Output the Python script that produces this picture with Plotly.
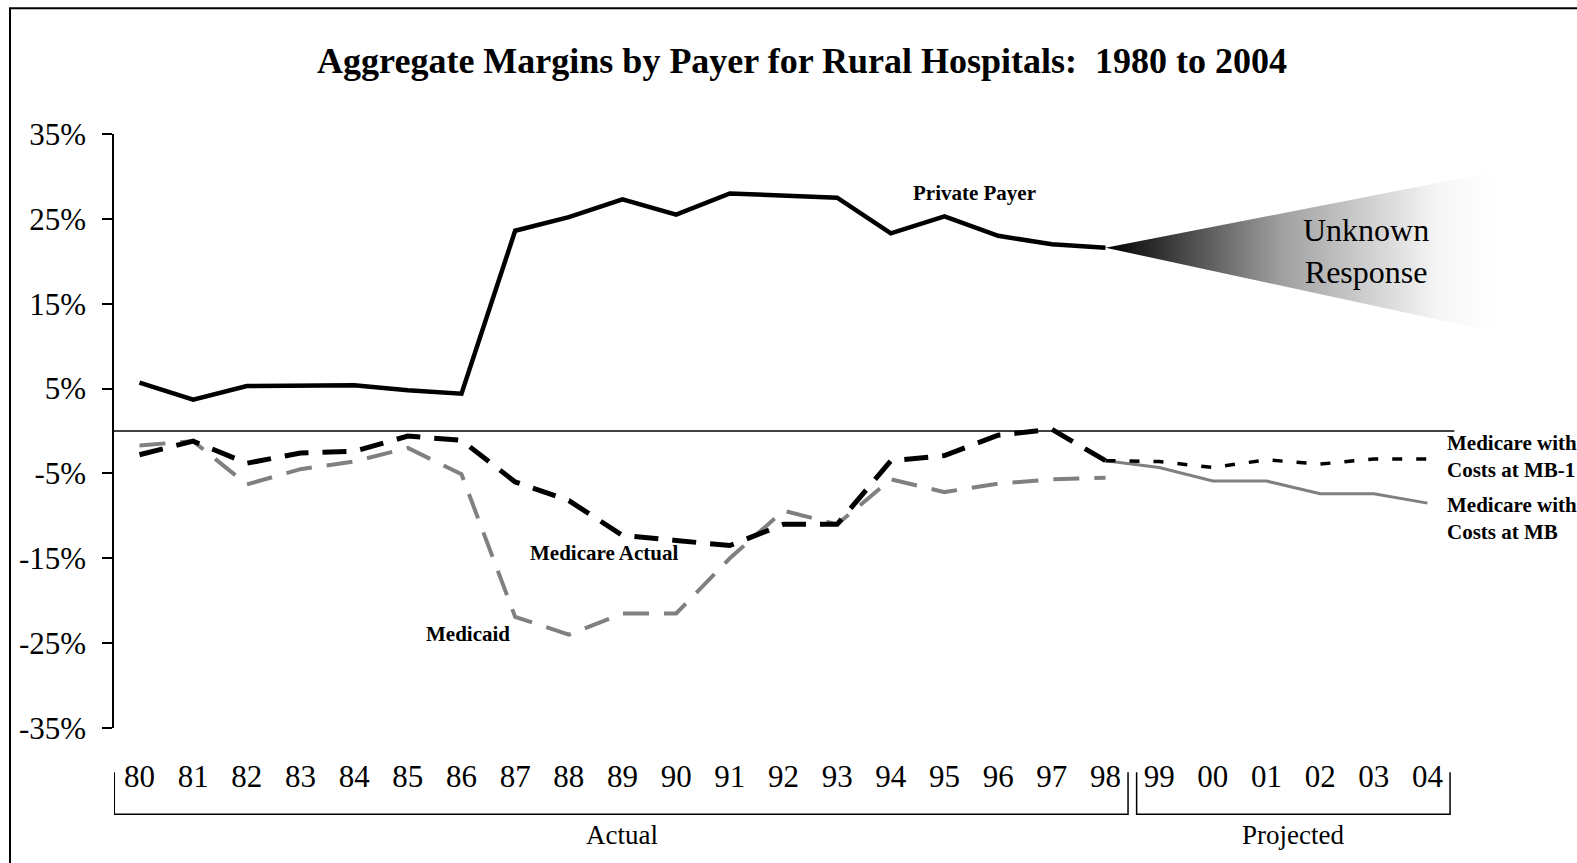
import plotly.graph_objects as go

# ---------------- data ----------------
years = ["80", "81", "82", "83", "84", "85", "86", "87", "88", "89", "90", "91",
         "92", "93", "94", "95", "96", "97", "98", "99", "00", "01", "02", "03", "04"]
actual_years = years[:19]          # 80 .. 98
projected_years = years[18:]       # 98 .. 04 (projection starts from the 98 value)

private_payer = [5.7, 3.7, 5.3, 5.4, 5.4, 4.8, 4.4, 23.6, 25.2, 27.3, 25.5, 28.0,
                 27.8, 27.5, 23.3, 25.3, 23.0, 22.0, 21.6]
medicare_actual = [-2.8, -1.2, -3.8, -2.6, -2.4, -0.6, -1.1, -6.0, -8.2, -12.3, -12.9, -13.5,
                   -11.0, -11.0, -3.5, -2.9, -0.5, 0.2, -3.5]
medicaid = [-1.7, -1.2, -6.3, -4.5, -3.6, -2.0, -5.1, -21.9, -24.0, -21.5, -21.5, -15.0,
            -9.4, -11.0, -5.7, -7.2, -6.2, -5.7, -5.5]
medicare_mb1 = [-3.5, -3.6, -4.3, -3.4, -3.9, -3.3, -3.3]
medicare_mb = [-3.5, -4.3, -5.9, -5.9, -7.4, -7.4, -8.5]

y_ticks = [-35, -25, -15, -5, 5, 15, 25, 35]
y_tick_labels = [f"{v}%" for v in y_ticks]

# ---------------- styling constants ----------------
FONT = "Liberation Serif, Times New Roman, serif"
GRAY = "rgb(128,128,128)"
X_MIN, X_MAX = -0.475, 25.5
WEDGE_END_X, WEDGE_TOP, WEDGE_BOTTOM = 25.3, 30.6, 11.6
ZERO_LINE_END = 24.5
BRACKET_PAD_OUTER, BRACKET_PAD = 0.47, 0.42
BRACKET_TOP, BRACKET_BOTTOM = -0.0743, -0.1454

pos = {y: i for i, y in enumerate(years)}
x_actual = [pos[y] for y in actual_years]
x_proj = [pos[y] for y in projected_years]

fig = go.Figure()

# Unknown response wedge (gradient)
apex_x, apex_y = x_actual[-1], private_payer[-1]
fig.add_trace(go.Scatter(
    x=[apex_x, WEDGE_END_X, WEDGE_END_X, apex_x],
    y=[apex_y, WEDGE_TOP, WEDGE_BOTTOM, apex_y],
    mode="lines", line=dict(width=0), fill="toself",
    fillgradient=dict(type="horizontal",
                      colorscale=[[0, "rgb(0,0,0)"], [0.45, "rgb(160,160,160)"],
                                  [0.85, "rgb(246,246,246)"], [1, "rgb(255,255,255)"]]),
    hoverinfo="skip", showlegend=False))

fig.add_trace(go.Scatter(x=x_actual, y=medicaid, mode="lines",
                         line=dict(color=GRAY, width=4, dash="26px,15px"), showlegend=False))
fig.add_trace(go.Scatter(x=x_actual, y=medicare_actual, mode="lines",
                         line=dict(color="black", width=5, dash="24px,14px"), showlegend=False))
fig.add_trace(go.Scatter(x=x_proj, y=medicare_mb, mode="lines",
                         line=dict(color=GRAY, width=3), showlegend=False))
fig.add_trace(go.Scatter(x=x_proj, y=medicare_mb1, mode="lines",
                         line=dict(color="black", width=3.5, dash="10px,14px"), showlegend=False))
fig.add_trace(go.Scatter(x=x_actual, y=private_payer, mode="lines",
                         line=dict(color="black", width=4.5), showlegend=False))

shapes = [
    # zero line
    dict(type="line", xref="x", yref="y", x0=X_MIN, x1=ZERO_LINE_END, y0=0, y1=0,
         line=dict(color="black", width=1.5)),
    # outer frame
    dict(type="rect", xref="paper", yref="paper", x0=-0.0746, x1=1.3, y0=-0.5, y1=1.2118,
         line=dict(color="black", width=2), fillcolor="rgba(0,0,0,0)", layer="below"),
]
groups = [(x_actual[0] - BRACKET_PAD_OUTER, x_actual[-1] + BRACKET_PAD),
          (x_proj[1] - BRACKET_PAD, x_proj[-1] + BRACKET_PAD)]
for a, b in groups:
    shapes.append(dict(type="path", xref="x", yref="paper",
                       path=f"M {a},{BRACKET_TOP} L {a},{BRACKET_BOTTOM} L {b},{BRACKET_BOTTOM} L {b},{BRACKET_TOP}",
                       line=dict(color="black", width=1.5)))

bold = dict(family=FONT, size=21, color="black")
annotations = [
    dict(text="<b>Private Payer</b>", x=15.55, y=28.0, font=bold),
    dict(text="<b>Medicare Actual</b>", x=8.65, y=-14.35, font=bold),
    dict(text="<b>Medicaid</b>", x=6.12, y=-23.9, font=bold),
    dict(text="<b>Medicare with<br>Costs at MB-1</b>", x=24.33, y=-3.0,
         xanchor="left", align="left", font=bold),
    dict(text="<b>Medicare with<br>Costs at MB</b>", x=24.33, y=-10.35,
         xanchor="left", align="left", font=bold),
    dict(text="Unknown<br>Response", x=22.86, y=21.2,
         font=dict(family=FONT, size=32, color="black")),
]
for ann in annotations:
    ann.update(xref="x", yref="y", showarrow=False, yanchor="middle")
    ann.setdefault("xanchor", "center")
annotations += [
    dict(text="Actual", x=sum(x_actual) / len(x_actual), y=-0.1807, xref="x", yref="paper",
         xanchor="center", yanchor="middle", showarrow=False,
         font=dict(family=FONT, size=27, color="black")),
    dict(text="Projected", x=sum(x_proj[1:]) / len(x_proj[1:]), y=-0.1807, xref="x", yref="paper",
         xanchor="center", yanchor="middle", showarrow=False,
         font=dict(family=FONT, size=27, color="black")),
]

fig.update_layout(
    template="none",
    width=1577, height=863,
    margin=dict(l=114, r=69.4, t=133.5, b=134.5, pad=0),
    paper_bgcolor="white", plot_bgcolor="white",
    title=dict(text="<b>Aggregate Margins by Payer for Rural Hospitals:  1980 to 2004</b>",
               x=0.5086, xanchor="center", y=1 - 60 / 863, yanchor="middle",
               font=dict(family=FONT, size=36, color="black")),
    xaxis=dict(range=[X_MIN, X_MAX], tickmode="array", tickvals=list(range(len(years))),
               ticktext=years, showgrid=False, zeroline=False, showline=False, ticks="",
               ticklabelstandoff=27, tickfont=dict(family=FONT, size=31, color="black")),
    yaxis=dict(range=[-35, 35], tickmode="array", tickvals=y_ticks, ticktext=y_tick_labels,
               showgrid=False, zeroline=False, showline=True, linecolor="black", linewidth=1.5,
               ticks="outside", ticklen=10, tickwidth=1.5, tickcolor="black",
               ticklabelstandoff=10, tickfont=dict(family=FONT, size=31, color="black")),
    shapes=shapes,
    annotations=annotations,
    showlegend=False,
)

fig.write_html("out.html", config={"displayModeBar": False},
               post_script="document.body.style.margin='0';document.body.style.overflow='hidden';")
